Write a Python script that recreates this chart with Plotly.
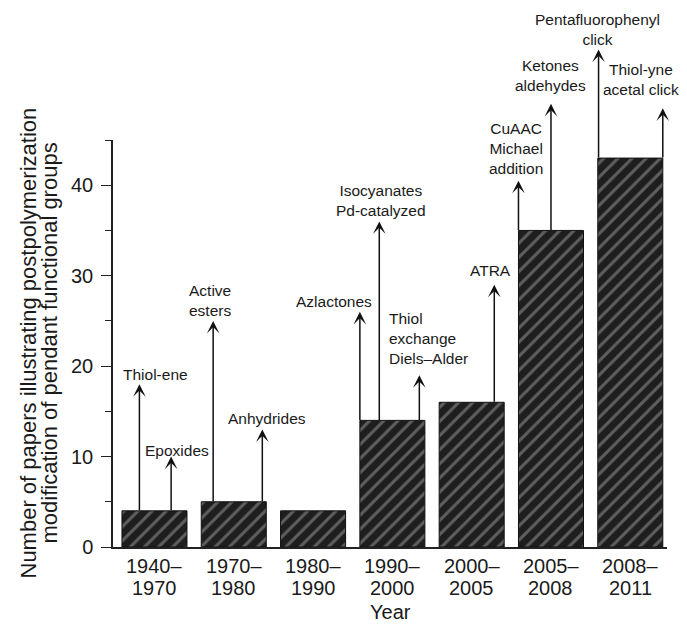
import plotly.graph_objects as go

# ---------------- data ----------------
period_start = ["1940–", "1970–", "1980–", "1990–", "2000–", "2005–", "2008–"]
period_end = ["1970", "1980", "1990", "2000", "2005", "2008", "2011"]
papers = [4, 5, 4, 14, 16, 35, 43]

# chemistry labels attached to each period (bar index), and arrow tip heights
chem_labels = ["Thiol-ene", "Epoxides", "Active<br>esters", "Anhydrides",
               "Azlactones", "Isocyanates<br>Pd-catalyzed", "Thiol<br>exchange<br>Diels–Alder",
               "ATRA", "CuAAC<br>Michael<br>addition", "Ketones<br>aldehydes",
               "Pentafluorophenyl<br>click", "Thiol-yne<br>acetal click"]
chem_bar = [0, 0, 1, 1, 3, 3, 3, 4, 5, 5, 6, 6]
chem_tip = [18, 10, 25, 13, 26, 36, 19, 29, 40.5, 49, 55, 48.5]

# ---------------- layout constants (positions / styles) ----------------
arrow_dx = [-0.19, 0.21, -0.26, 0.36, -0.41, -0.165, 0.34, 0.285, -0.41, 0.0, -0.40, 0.41]
label_dx_px = [16, 6, -3, 5, -26, 2, -31, -4, -2, 0, -1, -22]
label_dy_px = [0, -3, 1, 1, 1, 1, 7, 5, 3, 9, 1, 9]
label_left = [False, False, False, False, False, False, True, False, False, False, False, False]

FONT = "Liberation Sans, Arial, Helvetica, sans-serif"
INK = "#1a1a1a"

fig = go.Figure(go.Bar(
    x=list(range(len(papers))), y=papers, width=0.82,
    marker=dict(color="#1e1e1e", line=dict(color="#111111", width=1),
                pattern=dict(shape="/", fgcolor="#a0a0a0", bgcolor="#1e1e1e",
                             size=10, solidity=0.3)),
    hoverinfo="skip",
))

ann = []
for i, lab in enumerate(chem_labels):
    b = chem_bar[i]
    xa = b + arrow_dx[i]
    ann.append(dict(x=xa, y=chem_tip[i], ax=xa, ay=papers[b],
                    xref="x", yref="y", axref="x", ayref="y",
                    text="", showarrow=True, arrowhead=3, arrowsize=1.4,
                    arrowwidth=1.5, arrowcolor="#111111", standoff=0,
                    startstandoff=0, borderpad=0))
    ann.append(dict(x=xa, y=chem_tip[i] / 45.0, xref="x", yref="paper",
                    text=lab, showarrow=False,
                    xanchor="left" if label_left[i] else "center",
                    align="left" if label_left[i] else "center",
                    yanchor="bottom", xshift=label_dx_px[i], yshift=label_dy_px[i],
                    borderpad=0, font=dict(family=FONT, size=15.5, color=INK)))

# two-row category labels (tight line spacing as in the original)
for i in range(len(period_start)):
    ann.append(dict(x=i, y=0, xref="x", yref="paper", text=period_start[i],
                    showarrow=False, xanchor="center", yanchor="middle", yshift=-19,
                    font=dict(family=FONT, size=20, color=INK)))
    ann.append(dict(x=i, y=0, xref="x", yref="paper", text=period_end[i],
                    showarrow=False, xanchor="center", yanchor="middle", yshift=-41,
                    font=dict(family=FONT, size=20, color=INK)))
ann.append(dict(x=0.5, y=0, xref="paper", yref="paper", text="Year", showarrow=False,
                xanchor="center", yanchor="middle", yshift=-65,
                font=dict(family=FONT, size=20, color=INK)))

# y-axis title, two lines
ann.append(dict(x=0, y=0.50, xref="paper", yref="paper", xshift=-85, textangle=-90,
                text="Number of papers illustrating postpolymerization",
                showarrow=False, xanchor="center", yanchor="middle",
                font=dict(family=FONT, size=22, color=INK)))
ann.append(dict(x=0, y=0.50, xref="paper", yref="paper", xshift=-64, textangle=-90,
                text="modification of pendant functional groups",
                showarrow=False, xanchor="center", yanchor="middle",
                font=dict(family=FONT, size=22, color=INK)))

# the page body adds an 8 px offset, so margins are set 8 px smaller on top/left
fig.update_layout(
    width=687, height=629,
    margin=dict(l=105, r=28, t=132, b=90),
    paper_bgcolor="white", plot_bgcolor="white",
    showlegend=False,
    annotations=ann,
    font=dict(family=FONT, color=INK),
    xaxis=dict(range=[-0.523, 6.463], tickvals=list(range(len(period_start))),
               showticklabels=False, automargin=False,
               showline=True, linecolor="#222222", linewidth=1.5, ticks="",
               showgrid=False, zeroline=False),
    yaxis=dict(range=[0, 45], tickvals=[0, 10, 20, 30, 40], automargin=False,
               ticks="outside", ticklen=10, tickwidth=1.3, tickcolor="#222222",
               minor=dict(tickvals=[5, 15, 25, 35, 45], ticks="outside", ticklen=6,
                          tickwidth=1.3, tickcolor="#222222"),
               showline=True, linecolor="#222222", linewidth=1.5,
               showgrid=False, zeroline=False, ticklabelstandoff=4,
               tickfont=dict(size=20, color=INK)),
)

fig.write_html("out.html")
